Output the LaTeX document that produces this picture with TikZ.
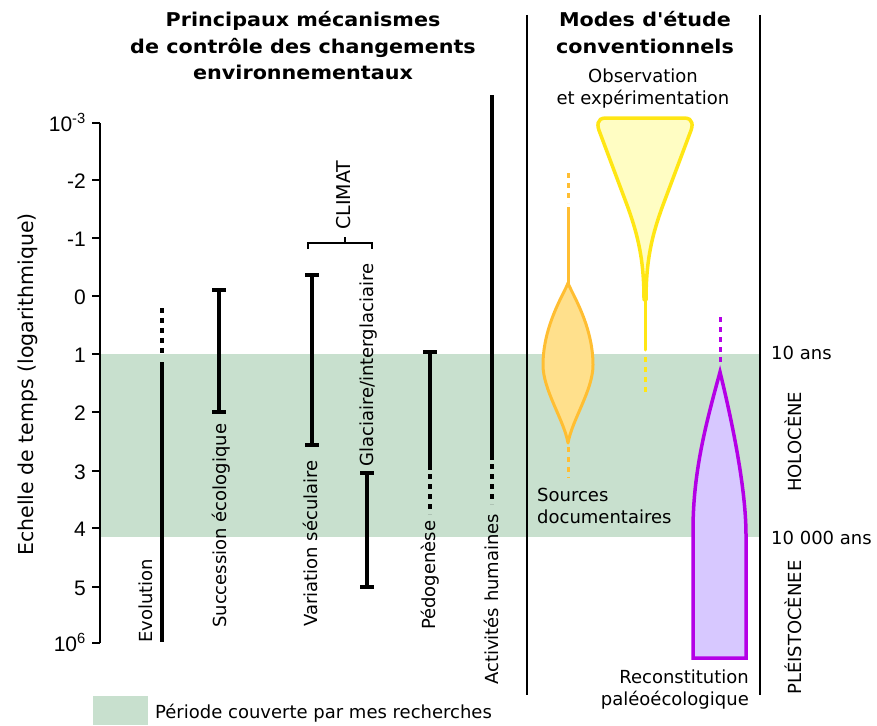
\documentclass[tikz,border=0pt]{standalone}
\usepackage{fontspec}
\setmainfont{DejaVu Sans}
\newfontfamily\titlefont{DejaVu Sans}[FakeStretch=1.09]
\newfontfamily\tickfont{Liberation Sans}
\definecolor{band}{RGB}{200,224,206}
\definecolor{ostroke}{RGB}{255,190,50}
\definecolor{ofill}{RGB}{255,224,140}
\definecolor{ystroke}{RGB}{255,230,20}
\definecolor{yfill}{RGB}{255,253,195}
\definecolor{pstroke}{RGB}{180,0,230}
\definecolor{pfill}{RGB}{215,200,255}
\newcommand\capbar[3]{%
  \draw[bar] (#1-7,#2) -- (#1+7,#2) (#1,#2) -- (#1,#3) (#1-7,#3) -- (#1+7,#3);}
\begin{document}
\begin{tikzpicture}[x=1pt,y=-1pt,
  bar/.style={line width=4pt},
  dotbar/.style={line width=4pt,dash pattern=on 5pt off 5pt},
  lbl/.style={inner sep=0pt,font=\fontsize{18}{22}\selectfont},
  rlbl/.style={lbl,rotate=90,anchor=base west},
  ttl/.style={inner sep=0pt,align=center,anchor=base,font=\titlefont\bfseries\fontsize{19}{26}\selectfont},
  tick/.style={inner sep=0pt,anchor=base east,font=\tickfont\fontsize{21}{24}\selectfont},
  divider/.style={line width=1.8pt}]
\useasboundingbox (0,0) rectangle (877,725);
% band
\fill[band] (100,354) rectangle (760,537);
% axis
\draw[line width=2pt] (100,123) -- (100,643);
\foreach \y/\t in {123/10\textsuperscript{-3},180/-2,238/-1,296/0,354/1,412/2,471/3,528/4,587/5,643/10\textsuperscript{6}}{
  \draw[line width=2pt] (92,\y) -- (100,\y);
  \node[tick] at (86,\y+8.5) {\t};
}
\node[lbl,rotate=90,anchor=base west,font=\fontsize{20.5}{24}\selectfont] (axlbl) at (33,556) {Echelle de temps (logarithmique)};
% bars
\draw[dotbar] (162,308) -- (162,354);
\draw[bar] (162,362) -- (162,642);
\capbar{219}{290}{412}
\capbar{312}{275}{445}
\capbar{367}{473}{587}
\draw[bar] (423,352) -- (437,352) (430,352) -- (430,470);
\draw[dotbar] (430,474) -- (430,514);
\draw[bar] (492,95) -- (492,460);
\draw[dotbar] (492,464) -- (492,504);
% climat bracket
\draw[line width=1.5pt] (308,249) -- (308,243) -- (372,243) -- (372,249);
\draw[line width=1.5pt] (345,243) -- (345,237);
\node[rlbl,font=\fontsize{19}{22}\selectfont] (climat) at (350,230) {CLIMAT};
% rotated labels
\node[rlbl] (evo) at (152,643) {Evolution};
\node[rlbl] (succ) at (226,628) {Succession écologique};
\node[rlbl] (var) at (317,627) {Variation séculaire};
\node[rlbl] (glac) at (373,467) {Glaciaire/interglaciaire};
\node[rlbl] (pedo) at (435,630) {Pédogenèse};
\node[rlbl] (act) at (498,685) {Activités humaines};
% dividers
\draw[divider] (527,15) -- (527,695);
\draw[divider] (760,15) -- (760,695);
% titles (base anchor = last line)
\node[ttl] (t1) at (303,79) {Principaux mécanismes\\de contrôle des changements\\environnementaux};
\node[ttl] (t2) at (645,53) {Modes d\char"0027 étude\\conventionnels};
% yellow shape
\draw[ystroke,line width=3pt,line cap=round] (645,300) -- (645,350);
\draw[ystroke,line width=3pt,dash pattern=on 5pt off 5pt] (645,357) -- (645,392);
\filldraw[draw=ystroke,fill=yfill,line width=3.5pt,line join=round]
  (646,300) .. controls (646,260) and (652,235) .. (663,205) -- (690,133)
  .. controls (693,126) and (694,118) .. (684,118) -- (606,118)
  .. controls (596,118) and (597,126) .. (600,133) -- (627,205)
  .. controls (638,235) and (644,260) .. (644,300) -- cycle;
% orange shape
\draw[ostroke,line width=3pt,dash pattern=on 5pt off 5pt] (568,173) -- (568,203);
\draw[ostroke,line width=3pt] (568,207) -- (568,285);
\draw[ostroke,line width=3pt,dash pattern=on 5pt off 5pt] (568,447) -- (568,478);
\filldraw[draw=ostroke,fill=ofill,line width=3pt,line join=round]
  (568,283) .. controls (571,292) and (593,325) .. (593,365)
  .. controls (593,390) and (572,420) .. (568,443)
  .. controls (564,420) and (543,390) .. (543,365)
  .. controls (543,325) and (565,292) .. (568,283) -- cycle;
% purple shape
\draw[pstroke,line width=3pt,dash pattern=on 5pt off 5pt] (720,317) -- (720,366);
\filldraw[draw=pstroke,fill=pfill,line width=3.5pt,line join=miter]
  (720,372) .. controls (707,420) and (693,470) .. (693,530) -- (693,658)
  -- (746,658) -- (746,535) .. controls (746,490) and (733,425) .. (720,372) -- cycle;
% right-side labels (base anchor = last line)
\node[lbl,align=center,anchor=base] (obs) at (643,104) {Observation\\et expérimentation};
\node[lbl,align=left,anchor=base west] (src) at (537,523) {Sources\\documentaires};
\node[lbl,align=right,anchor=base east] (rec) at (749,705) {Reconstitution\\paléoécologique};
\node[lbl,anchor=base west] (dix) at (771,359) {10 ans};
\node[lbl,anchor=base west] (dixm) at (771,544) {10 000 ans};
\node[rlbl] (holo) at (801,492) {HOLOCÈNE};
\node[rlbl] (pleis) at (801,695) {PLÉISTOCÈNEE};
% legend
\fill[band] (93,696) rectangle (148,725);
\node[lbl,anchor=base west] (leg) at (155,718) {Période couverte par mes recherches};
\end{tikzpicture}
\end{document}
